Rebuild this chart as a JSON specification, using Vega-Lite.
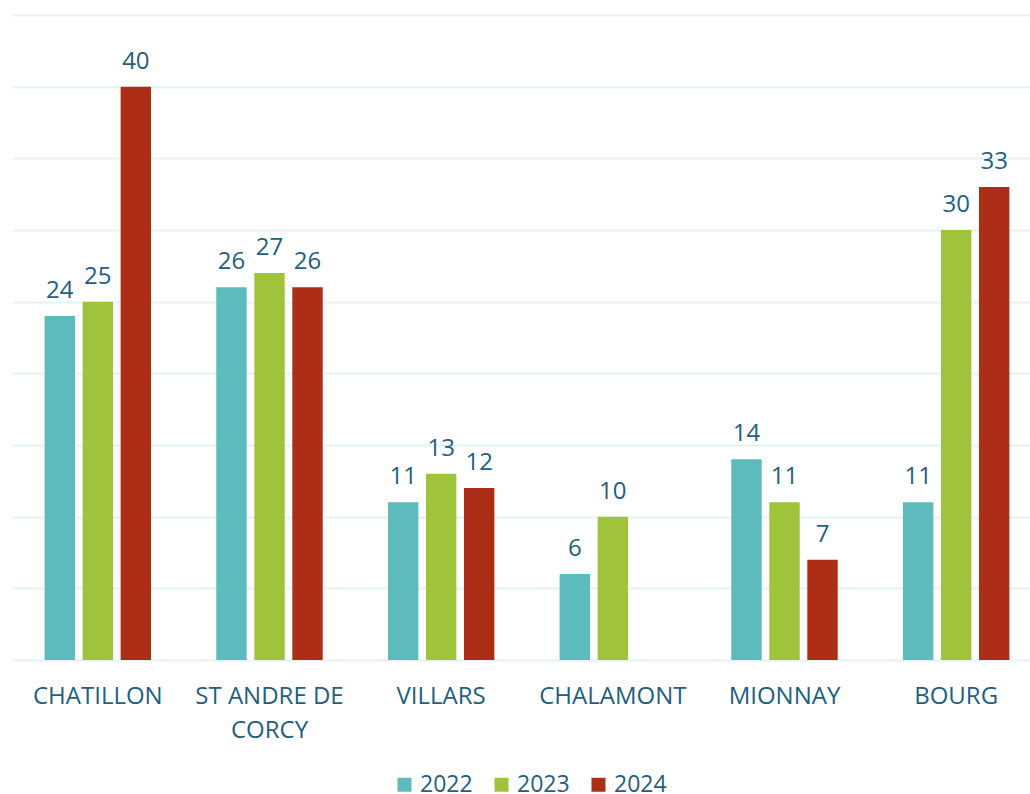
{
  "$schema": "https://vega.github.io/schema/vega-lite/v6.json",
  "width": 1030,
  "height": 645,
  "autosize": "none",
  "padding": {"left": 12, "top": 15, "right": 0, "bottom": 134},
  "background": "white",
  "config": {
    "view": {"stroke": null},
    "font": "Open Sans",
    "text": {"font": "Open Sans"}
  },
  "data": {
    "values": [
      {"commune": "CHATILLON", "annee": "2022", "valeur": 24},
      {"commune": "CHATILLON", "annee": "2023", "valeur": 25},
      {"commune": "CHATILLON", "annee": "2024", "valeur": 40},
      {"commune": "ST ANDRE DE CORCY", "annee": "2022", "valeur": 26},
      {"commune": "ST ANDRE DE CORCY", "annee": "2023", "valeur": 27},
      {"commune": "ST ANDRE DE CORCY", "annee": "2024", "valeur": 26},
      {"commune": "VILLARS", "annee": "2022", "valeur": 11},
      {"commune": "VILLARS", "annee": "2023", "valeur": 13},
      {"commune": "VILLARS", "annee": "2024", "valeur": 12},
      {"commune": "CHALAMONT", "annee": "2022", "valeur": 6},
      {"commune": "CHALAMONT", "annee": "2023", "valeur": 10},
      {"commune": "MIONNAY", "annee": "2022", "valeur": 14},
      {"commune": "MIONNAY", "annee": "2023", "valeur": 11},
      {"commune": "MIONNAY", "annee": "2024", "valeur": 7},
      {"commune": "BOURG", "annee": "2022", "valeur": 11},
      {"commune": "BOURG", "annee": "2023", "valeur": 30},
      {"commune": "BOURG", "annee": "2024", "valeur": 33}
    ]
  },
  "encoding": {
    "x": {
      "field": "commune",
      "type": "nominal",
      "sort": null,
      "scale": {"paddingInner": 0.38, "paddingOuter": 0.19},
      "axis": {
        "title": null,
        "labelAngle": 0,
        "domain": false,
        "ticks": false,
        "labelFont": "Open Sans",
        "labelFontSize": 24,
        "labelColor": "#22607e",
        "labelPadding": 24,
        "labelLineHeight": 34,
        "labelExpr": "datum.value == 'ST ANDRE DE CORCY' ? ['ST ANDRE DE', 'CORCY'] : datum.value"
      }
    },
    "xOffset": {
      "field": "annee",
      "type": "nominal",
      "scale": {"paddingInner": 0.2, "paddingOuter": 0, "domain": ["2022", "2023", "2024"]}
    },
    "y": {
      "field": "valeur",
      "type": "quantitative",
      "scale": {"domain": [0, 45], "nice": false},
      "axis": {
        "title": null,
        "labels": false,
        "ticks": false,
        "domain": false,
        "values": [0, 5, 10, 15, 20, 25, 30, 35, 40, 45],
        "gridColor": "#e4f2f2",
        "gridWidth": 2
      }
    }
  },
  "layer": [
    {
      "mark": {"type": "bar"},
      "encoding": {
        "color": {
          "field": "annee",
          "type": "nominal",
          "scale": {"domain": ["2022", "2023", "2024"], "range": ["#5dbbbd", "#9fc33b", "#ad2e17"]},
          "legend": {
            "title": null,
            "orient": "none",
            "direction": "horizontal",
            "legendX": 381,
            "legendY": 758,
            "symbolType": "square",
            "symbolSize": 196,
            "symbolOpacity": 1,
            "symbolStrokeWidth": 0,
            "labelFont": "Open Sans",
            "labelFontSize": 23,
            "labelColor": "#22607e",
            "labelOffset": 4,
            "columnPadding": 17
          }
        }
      }
    },
    {
      "mark": {"type": "text", "dy": -25, "fontSize": 24, "color": "#22607e", "font": "Open Sans"},
      "encoding": {
        "text": {"field": "valeur", "type": "quantitative"}
      }
    }
  ]
}
